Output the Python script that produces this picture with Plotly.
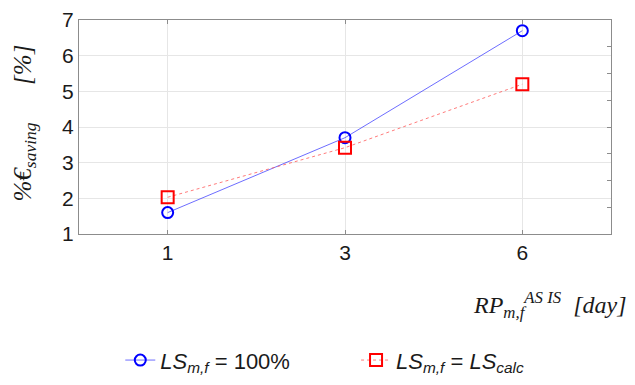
import plotly.graph_objects as go

categories = ["1", "3", "6"]
ls_100 = [1.6, 3.7, 6.7]
ls_calc = [2.03, 3.42, 5.2]
y_ticks = [1, 2, 3, 4, 5, 6, 7]

fig = go.Figure()
fig.add_trace(go.Scatter(
    x=categories, y=ls_100, mode="lines+markers",
    name="<i>LS<sub>m,f</sub></i> = 100%          ",
    line=dict(color="rgba(60,60,255,0.75)", width=1),
    marker=dict(symbol="circle-open", size=11, color="#0000ff", line=dict(width=2, color="#0000ff")),
))
fig.add_trace(go.Scatter(
    x=categories, y=ls_calc, mode="lines+markers",
    name="<i>LS<sub>m,f</sub></i> = <i>LS<sub>calc</sub></i>",
    line=dict(color="rgba(255,90,90,0.8)", width=1, dash="dot"),
    marker=dict(symbol="square-open", size=12, color="#ff0000", line=dict(width=2, color="#ff0000")),
))
# invisible trace to drive the secondary right axis ticks
fig.add_trace(go.Scatter(x=categories, y=[None, None, None], yaxis="y2", showlegend=False, hoverinfo="skip"))

fig.update_layout(
    width=627, height=377,
    margin=dict(l=71, r=24, t=12, b=151, autoexpand=False),
    paper_bgcolor="white", plot_bgcolor="white",
    font=dict(family="Liberation Sans, Arial, sans-serif", size=21, color="#1a1a1a"),
    xaxis=dict(
        type="category", range=[-0.5, 2.5],
        showgrid=True, gridcolor="#e6e6e6", gridwidth=1,
        showline=True, linecolor="#8c8c8c", linewidth=1, mirror="ticks",
        ticks="inside", ticklen=4, tickcolor="#8c8c8c",
        tickfont=dict(size=21), zeroline=False, automargin=False,
    ),
    yaxis=dict(
        range=[1, 7], tickvals=y_ticks,
        showgrid=True, gridcolor="#e6e6e6", gridwidth=1,
        showline=True, linecolor="#8c8c8c", linewidth=1, mirror=True,
        ticks="", tickfont=dict(size=21), zeroline=False, automargin=False,
    ),
    yaxis2=dict(
        overlaying="y", side="right", range=[0, 8], dtick=1,
        showgrid=False, showticklabels=False, ticks="inside", ticklen=4,
        tickcolor="#8c8c8c", zeroline=False, showline=False, automargin=False,
    ),
    legend=dict(
        orientation="h", x=0.462, xanchor="center", y=-0.59, yanchor="middle",
        font=dict(size=22, family="Liberation Sans, Arial, sans-serif"),
        itemwidth=30,
    ),
    showlegend=True,
)

fig.add_annotation(
    text="<i>RP<sub>m,f</sub><sup>AS IS</sup>  [day]</i>",
    xref="paper", yref="paper", x=1.032, y=-0.33, xanchor="right", yanchor="middle",
    showarrow=False, font=dict(family="Liberation Serif, serif", size=24, color="#1a1a1a"),
)
fig.add_annotation(
    text="<i>%€<sub>saving</sub>      [%]</i>",
    xref="paper", yref="paper", x=-0.102, y=0.52, xanchor="center", yanchor="middle",
    textangle=-90,
    showarrow=False, font=dict(family="Liberation Serif, serif", size=25, color="#1a1a1a"),
)

fig.write_html("out.html")
